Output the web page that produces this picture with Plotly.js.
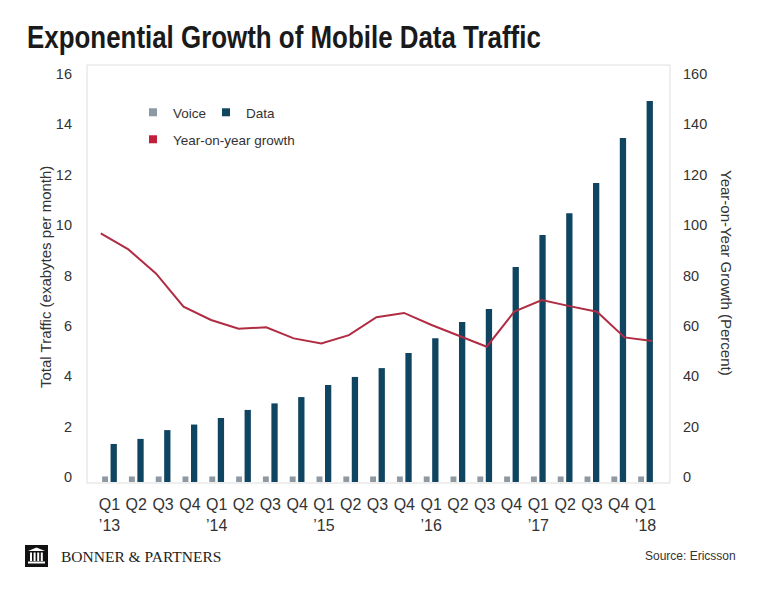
<!DOCTYPE html>
<html>
<head>
<meta charset="utf-8">
<script src="https://cdn.plot.ly/plotly-3.0.1.min.js"></script>
<style>html,body{margin:0;padding:0;background:#fff;}#chart{width:768px;height:595px;}</style>
</head>
<body>
<div id="chart"></div>
<script>
// ---- data ----
const quarters = ["Q1","Q2","Q3","Q4","Q1","Q2","Q3","Q4","Q1","Q2","Q3","Q4","Q1","Q2","Q3","Q4","Q1","Q2","Q3","Q4","Q1"];
const years    = ["’13","","","","’14","","","","’15","","","","’16","","","","’17","","","","’18"];
const voice    = [0.22,0.22,0.22,0.22,0.22,0.22,0.22,0.22,0.22,0.22,0.22,0.22,0.22,0.22,0.22,0.22,0.22,0.22,0.22,0.22,0.22];
const data     = [1.51,1.71,2.06,2.28,2.54,2.86,3.12,3.37,3.85,4.17,4.52,5.12,5.71,6.35,6.87,8.53,9.80,10.67,11.87,13.65,15.12];
const yoy      = [98.7,92.3,82.8,69.6,64.3,60.8,61.4,57.0,55.0,58.3,65.4,67.1,62.3,58.1,53.7,67.6,72.2,69.8,67.6,57.4,56.0];
const leftTicks  = [0,2,4,6,8,10,12,14,16];
const rightTicks = [0,20,40,60,80,100,120,140,160];

const idx = quarters.map((q,i)=>i);
const tickText = quarters.map((q,i)=> years[i] ? q + "<br>" + years[i] : q);

// pixel -> paper helpers (plot area: x 87..670, y 65..482)
const PL=87, PW=583, PB=482, PH=417;
const px = v => (v-PL)/PW;
const py = v => (PB-v)/PH;

const C_VOICE = "#8e99a4", C_DATA = "#0f4560", C_LINE = "#b02c42", C_TXT = "#333333";
const FONT = "Liberation Sans, Arial, sans-serif";

const traces = [
  {type:"bar", x:idx, y:voice, xaxis:"x", yaxis:"y", name:"Voice", marker:{color:C_VOICE},
   width:0.22, offset:-0.275, showlegend:false, hoverinfo:"y"},
  {type:"bar", x:idx, y:data, xaxis:"x", yaxis:"y", name:"Data", marker:{color:C_DATA},
   width:0.235, offset:0.04, showlegend:false, hoverinfo:"y"},
  {type:"scatter", mode:"lines", x:idx, y:yoy, xaxis:"x2", yaxis:"y2", name:"Year-on-year growth",
   line:{color:C_LINE, width:2}, showlegend:false},
  // legend entries
  {type:"scatter", mode:"markers", x:[null], y:[null], xaxis:"x", yaxis:"y", name:"Voice",
   marker:{symbol:"square", size:8, color:C_VOICE}, legend:"legend"},
  {type:"scatter", mode:"markers", x:[null], y:[null], xaxis:"x", yaxis:"y", name:"Data",
   marker:{symbol:"square", size:8, color:C_DATA}, legend:"legend"},
  {type:"scatter", mode:"markers", x:[null], y:[null], xaxis:"x2", yaxis:"y2", name:"Year-on-year growth",
   marker:{symbol:"square", size:8, color:"#c0203a"}, legend:"legend2"}
];

// frame + logo shapes
const shapes = [
  {type:"rect", xref:"paper", yref:"paper", x0:0, x1:1, y0:py(483), y1:1, line:{color:"#dedede", width:1}, fillcolor:"rgba(0,0,0,0)", layer:"below"},
  {type:"rect", xref:"paper", yref:"paper", x0:px(25), x1:px(48), y0:py(567), y1:py(545), line:{width:0}, fillcolor:"#111"},
  {type:"path", xref:"paper", yref:"paper", path:`M ${px(28)} ${py(551)} L ${px(36.5)} ${py(547.5)} L ${px(45)} ${py(551)} Z`, line:{width:0}, fillcolor:"#fff"},
  {type:"rect", xref:"paper", yref:"paper", x0:px(28), x1:px(45), y0:py(563.5), y1:py(561.5), line:{width:0}, fillcolor:"#fff"}
];
[30,33.6,37.2,40.8].forEach(c=>{
  shapes.push({type:"rect", xref:"paper", yref:"paper", x0:px(c), x1:px(c+2), y0:py(561), y1:py(552.5), line:{width:0}, fillcolor:"#fff"});
});

const layout = {
  width:768, height:595,
  margin:{l:87, r:98, t:65, b:113, pad:0},
  paper_bgcolor:"#ffffff", plot_bgcolor:"rgba(0,0,0,0)",
  font:{family:FONT, color:C_TXT},
  title:{text:"Exponential Growth of Mobile Data Traffic", xref:"container", yref:"container",
         x:27/768, xanchor:"left", y:1-37/595, yanchor:"middle",
         font:{family:FONT, size:31, weight:"bold", color:"#1a1a1a"}},
  showlegend:true,
  barmode:"overlay",
  xaxis:{domain:[0.0156,0.981], range:[-0.5,20.5], anchor:"y", tickmode:"array", tickvals:idx, ticktext:tickText,
         showgrid:false, zeroline:false, showline:false, ticks:"", tickfont:{size:16, color:C_TXT}, ticklabelstandoff:11, fixedrange:true},
  yaxis:{domain:[0,1], range:[0,16.55], anchor:"free", position:0, tickmode:"array", tickvals:leftTicks,
         showgrid:false, zeroline:false, showline:false, ticks:"", tickfont:{size:14.5, color:C_TXT}, ticklabelstandoff:15, ticklabelshift:-5},
  xaxis2:{domain:[0,0.993], range:[-0.5,20.5], anchor:"y2", visible:false},
  yaxis2:{domain:[0,1], range:[0,165.5], anchor:"free", position:1, side:"right", tickmode:"array", tickvals:rightTicks,
          showgrid:false, zeroline:false, showline:false, ticks:"", tickfont:{size:14.5, color:C_TXT}, ticklabelstandoff:12, ticklabelshift:-5},
  legend:{x:px(133), y:py(97), xanchor:"left", yanchor:"top", orientation:"h", bgcolor:"rgba(0,0,0,0)",
          font:{size:13.5, color:C_TXT}, itemsizing:"trace", traceorder:"normal", entrywidth:28, entrywidthmode:"pixels"},
  legend2:{x:px(133), y:py(124), xanchor:"left", yanchor:"top", orientation:"h", bgcolor:"rgba(0,0,0,0)",
          font:{size:13.5, color:C_TXT}, itemsizing:"trace"},
  shapes:shapes,
  annotations:[
    {text:"Total Traffic (exabytes per month)", xref:"paper", yref:"paper", x:px(45), y:py(277), xanchor:"center", yanchor:"middle",
     textangle:-90, showarrow:false, font:{size:15, color:C_TXT}},
    {text:"Year-on-Year Growth (Percent)", xref:"paper", yref:"paper", x:px(727), y:py(273), xanchor:"center", yanchor:"middle",
     textangle:90, showarrow:false, font:{size:15, color:C_TXT}},
    {text:"BONNER &amp; PARTNERS", xref:"paper", yref:"paper", x:px(59), y:py(556), xanchor:"left", yanchor:"middle",
     showarrow:false, font:{family:"Liberation Serif, Times New Roman, serif", size:15.5, color:"#222"}},
    {text:"Source: Ericsson", xref:"paper", yref:"paper", x:px(738), y:py(556), xanchor:"right", yanchor:"middle",
     showarrow:false, font:{size:12, color:C_TXT}}
  ]
};

Plotly.newPlot("chart", traces, layout, {staticPlot:true, displayModeBar:false}).then(gd=>{
  // condense the title horizontally to mimic the narrow headline font
  const t = gd.querySelector(".gtitle");
  if (t) {
    const bb = t.getBBox();
    const s = 514 / bb.width;
    const x0 = bb.x;
    const prev = t.getAttribute("transform") || "";
    t.setAttribute("transform", prev + ` translate(${x0},0) scale(${s},1) translate(${-x0},0)`);
  }
});
</script>
</body>
</html>
